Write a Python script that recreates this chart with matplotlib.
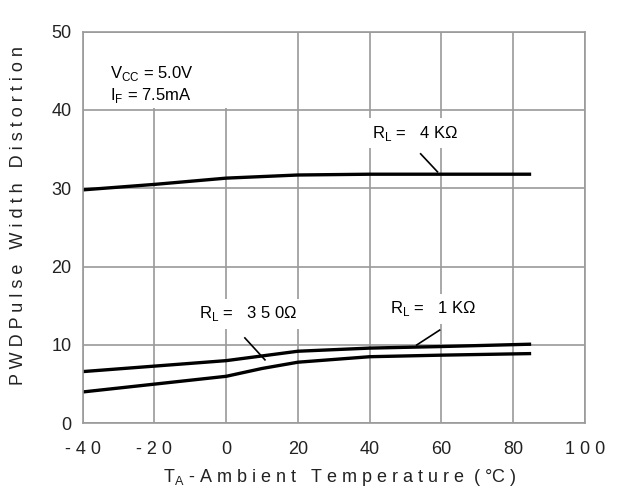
import matplotlib
matplotlib.use('Agg')
import matplotlib.pyplot as plt
from matplotlib.patches import Rectangle

plt.rcParams['font.family'] = ['Liberation Sans', 'DejaVu Sans']

temp = [-40, -20, 0, 10, 20, 40, 60, 85]
pwd_4k = [29.8, 30.5, 31.3, 31.5, 31.7, 31.8, 31.8, 31.8]
pwd_1k = [6.6, 7.3, 8.0, 8.6, 9.2, 9.6, 9.8, 10.1]
pwd_350 = [4.0, 5.0, 6.0, 7.0, 7.8, 8.5, 8.7, 8.9]

xticks = [-40, -20, 0, 20, 40, 60, 80, 100]
xtick_labels = ['- 4 0', '- 2 0', '0', '20', '40', '60', '80', '1 0 0']
yticks = [0, 10, 20, 30, 40, 50]

fig = plt.figure(figsize=(6.29, 4.97), dpi=100)
ax = fig.add_axes([0.1315, 0.1483, 0.7985, 0.788])
ax.set_xlim(-40, 100)
ax.set_ylim(0, 50)

gc = '#9a9a9a'
ax.grid(True, color=gc, lw=1.2)
for s in ax.spines.values():
    s.set_color(gc)
    s.set_linewidth(1.2)
ax.tick_params(length=0, labelsize=13, colors='#222222')
ax.tick_params(axis='x', pad=13)
ax.tick_params(axis='y', pad=8)
ax.set_xticks(xticks)
ax.set_xticklabels(xtick_labels)
ax.set_yticks(yticks)

for y in (pwd_4k, pwd_1k, pwd_350):
    ax.plot(temp, y, color='black', lw=2.4, solid_capstyle='butt')

# condition box
ax.add_patch(Rectangle((-39.7, 40.25), 43.5, 9.55, facecolor='white', edgecolor='none', zorder=2.5))
ax.text(-32.4, 44.7, 'V$_{\\mathregular{CC}}$ = 5.0V', fontsize=12, va='center', zorder=3)
ax.text(-32.4, 41.8, 'I$_{\\mathregular{F}}$ = 7.5mA', fontsize=12, va='center', zorder=3)

bbox = dict(facecolor='white', edgecolor='none', pad=4)
ax.text(52.6, 37, 'R$_{\\mathregular{L}}$ =   4 KΩ', fontsize=12, ha='center', va='center', bbox=bbox, zorder=3)
ax.plot([54.2, 58.9], [34.4, 32.1], color='black', lw=1.2, zorder=3)
ax.text(6, 14.0, 'R$_{\\mathregular{L}}$ =   3 5 0Ω', fontsize=12, ha='center', va='center', bbox=bbox, zorder=3)
ax.plot([5.2, 10.8], [10.9, 8.1], color='black', lw=1.2, zorder=3)
ax.text(57.6, 14.6, 'R$_{\\mathregular{L}}$ =   1 KΩ', fontsize=12, ha='center', va='center', bbox=bbox, zorder=3)
ax.plot([59.5, 53.1], [11.9, 10.0], color='black', lw=1.2, zorder=3)

fig.text(0.029, 0.225, 'P W D P u l s e   W i d t h   D i s t o r t i o n',
         rotation=90, ha='center', va='bottom', fontsize=13, color='#222222')
fig.text(0.54, 0.04, 'T$_{\\mathregular{A}}$ - A m b i e n t   T e m p e r a t u r e  ( °C )',
         ha='center', va='center', fontsize=13, color='#222222')

fig.savefig('out.png', dpi=100, facecolor='white')
